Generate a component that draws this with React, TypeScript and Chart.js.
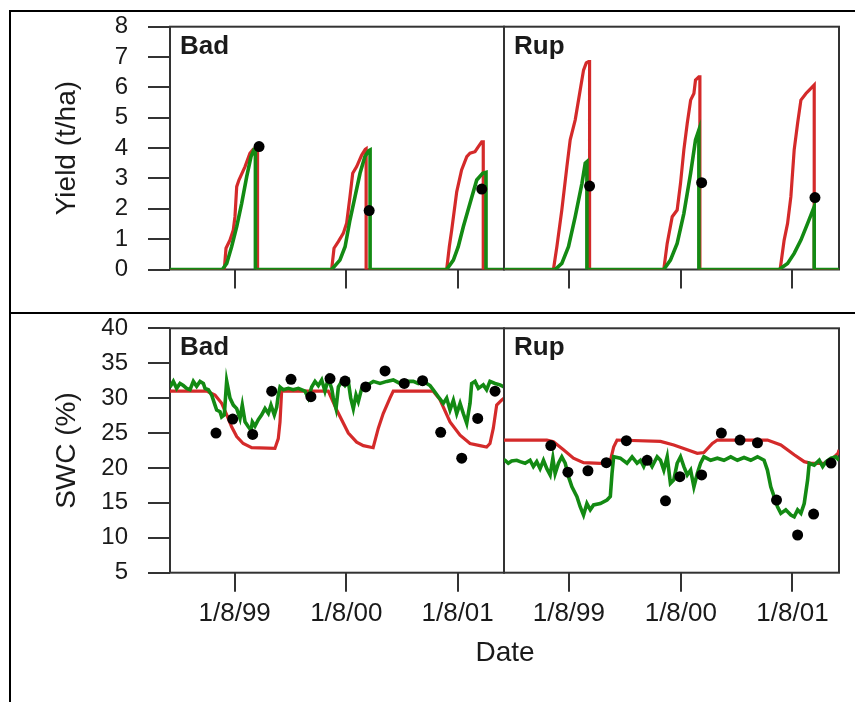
import React, { useEffect, useRef } from 'react';
import { Chart, registerables } from 'chart.js';

Chart.register(...registerables);

const FONT = '"Liberation Sans", Arial, Helvetica, sans-serif';
const RED = '#d42a2a';
const GREEN = '#138a13';
const INK = '#1a1a1a';
const FRAME = '#333333';

// x axis: days since 1 Jan 1999
const DAY_MIN = 0;
const DAY_MAX = 1095;
const xTickDays = [212, 578, 943];
const xTickLabels = ['1/8/99', '1/8/00', '1/8/01'];

const yieldTicks = [0, 1, 2, 3, 4, 5, 6, 7, 8];
const swcTicks = [5, 10, 15, 20, 25, 30, 35, 40];

const sites = ['Bad', 'Rup'];
const yieldTitle = 'Yield (t/ha)';
const swcTitle = 'SWC (%)';
const xTitle = 'Date';

type Pt = [number, number];

// ---------- Yield (t/ha) ----------
const badYieldRed: Pt[] = [
  [0, 0], [178, 0], [183.6, 0.7], [196.7, 0.97], [207.5, 1.3], [213, 1.74], [218.7, 2.73], [226, 2.95],
  [246, 3.39], [262, 3.83], [273, 3.96], [281, 3.97], [287, 3.97], [287, 0],
  [530, 0], [537.7, 0.7], [551.8, 0.92], [568, 1.19], [579, 1.52], [590, 2.4], [599, 3.17], [612, 3.39],
  [628.5, 3.77], [640, 3.96], [643, 3.98], [643, 0],
  [907, 0], [915.7, 0.75], [923.6, 1.3], [940, 2.56], [956, 3.28], [973, 3.72], [983.6, 3.83], [1000, 3.88],
  [1011, 4.05], [1022, 4.21], [1027, 4.21], [1027, 0], [1095, 0],
];
const badYieldGreen: Pt[] = [
  [0, 0], [171.5, 0], [186, 0.2], [202, 0.75], [218.7, 1.41], [235, 2.18], [251.5, 3.06], [265.6, 3.72],
  [276, 3.96], [280, 3.96], [280, 0],
  [530, 0], [557, 0.31], [574, 0.75], [590, 1.63], [606.6, 2.4], [623, 3.17], [639, 3.72], [652, 3.92],
  [656, 3.94], [656, 0],
  [907, 0], [929, 0.31], [945, 0.75], [961.6, 1.41], [983.6, 2.18], [1005.6, 2.95], [1025, 3.17], [1036, 3.2],
  [1036, 0], [1095, 0],
];
const badYieldObs: Pt[] = [[292, 4.05], [653, 1.94], [1022, 2.65]];

const rupYieldRed: Pt[] = [
  [0, 0], [161.6, 0], [172.8, 0.75], [189, 1.96], [205.6, 3.39], [216.4, 4.27], [232.8, 4.93], [249, 5.91],
  [260, 6.57], [268.9, 6.81], [276.4, 6.85], [279.7, 6.85], [279.7, 0],
  [522.3, 0], [533.4, 0.86], [549.8, 1.74], [566, 1.96], [577, 2.84], [587.9, 3.94], [599, 4.82], [610, 5.58],
  [620.7, 5.8], [626, 6.24], [637, 6.35], [640.3, 6.35], [640.3, 0],
  [902.6, 0], [915.7, 0.97], [926.9, 1.52], [937.7, 2.4], [948.5, 3.94], [959.7, 4.82], [970.5, 5.58],
  [987, 5.8], [997.7, 5.91], [1014, 6.08], [1014, 0], [1095, 0],
];
const rupYieldGreen: Pt[] = [
  [0, 0], [167, 0], [189, 0.2], [210.8, 0.75], [232.8, 1.74], [254.8, 2.84], [265.6, 3.5], [271, 3.55], [271, 0],
  [522.3, 0], [544, 0.31], [566, 0.86], [588, 1.85], [610, 3.17], [626, 4.27], [637, 4.6], [637, 0],
  [899.3, 0], [926.9, 0.2], [948.5, 0.53], [970.5, 0.97], [992.5, 1.52], [1014, 2.07], [1014, 0], [1095, 0],
];
const rupYieldObs: Pt[] = [[279.7, 2.75], [646, 2.86], [1016.4, 2.37]];

// ---------- SWC (%) ----------
const badSwcRed: Pt[] = [
  [0, 31], [120, 31], [147.5, 30.45], [169.5, 29.25], [186, 27.6], [202, 25.9], [218.7, 24.5], [240, 23.5],
  [268, 22.9], [344, 22.8], [355, 24.2], [360.7, 26.6], [366, 31], [519, 31], [546.6, 28.3], [584.6, 25],
  [612, 23.7], [634, 23.2], [666, 22.9], [683, 25.7], [699, 27.8], [721, 30], [732, 31], [863, 31],
  [885, 29.8], [918, 26.6], [951, 24.7], [983.6, 23.5], [1016, 23.2], [1038, 23.0], [1049, 23.5],
  [1060, 25.7], [1071, 29], [1087, 29.7], [1095, 30],
];
const badSwcGreen: Pt[] = [
  [0, 31.6], [10.9, 32.4], [21.9, 31.4], [32.8, 32.1], [43.7, 31.8], [54.6, 31.4], [65.6, 31.2], [76.5, 32.4],
  [87.4, 31.7], [98.4, 32.4], [109.3, 32.1], [114.8, 31.4], [125.7, 31.2], [136.6, 30.45], [147.5, 29],
  [153, 28.3], [164, 28.05], [169.4, 27.3], [178, 27.6], [185.8, 32.45], [196.7, 30], [207.6, 29],
  [218.6, 28.5], [229.5, 27.1], [237, 29], [246, 26.6], [256.8, 25.9], [265.6, 25.4], [270, 26.6],
  [278.7, 26.0], [289.5, 26.9], [300.6, 27.6], [311.5, 28.5], [322.4, 27.8], [331, 29], [342, 27.6],
  [349.8, 28.7], [355, 30.45], [360.7, 31.6], [371.5, 31.2], [388, 31.4], [404, 31.2], [420.7, 31.4],
  [442.6, 31], [453.5, 30], [464.5, 31.6], [475.4, 32.4], [486.3, 31.8], [497.3, 32.6], [508, 31],
  [519, 32.8], [530, 31.4], [535.4, 30], [544.3, 28.5], [552, 31.6], [563, 32.4], [573.8, 31.8],
  [584.6, 32.4], [592.5, 30], [601, 28.5], [609.8, 30.45], [617.4, 29.5], [628.5, 31.4], [645, 31.8],
  [666.6, 32.4], [688.5, 32.1], [710.5, 32.4], [732, 32.6], [754, 32.1], [776, 32.4], [797.7, 32.4],
  [814, 32.1], [830.5, 32.4], [841.6, 32.1], [852.5, 31.8], [863, 31.2], [879.7, 30.2], [896, 29.25],
  [907, 30], [918, 28.3], [929, 29.7], [940, 27.8], [951, 29.25], [961.6, 27.8], [972.8, 26.4],
  [983.6, 29.25], [989, 32.1], [1000, 32.4], [1011, 31.4], [1027, 31.9], [1038, 31.2], [1049, 32.4],
  [1065.6, 32.1], [1082, 31.9], [1095, 31.6],
];
const badSwcObs: Pt[] = [
  [150.8, 25.0], [205.6, 27.0], [271, 24.8], [333.4, 31], [396.7, 32.7], [462, 30.2], [524.6, 32.8],
  [573.8, 32.45], [641.6, 31.6], [705, 33.9], [768, 32.1], [828, 32.5], [887.5, 25.1], [956.4, 21.4],
  [1008.8, 27.1], [1065.6, 31.0],
];

const rupSwcRed: Pt[] = [
  [0, 24], [140, 24], [161.6, 23.76], [194.4, 22.6], [227, 21.4], [260, 20.75], [314.8, 20.67], [347.5, 21.0],
  [358.4, 23.0], [369.5, 24.0], [511.5, 23.8], [555, 23.3], [599, 22.6], [631.8, 22.1], [653.4, 22.2],
  [681, 23.5], [697.4, 24], [861.3, 24], [905, 23.3], [948.5, 21.9], [981.3, 20.9], [1003.3, 20.67],
  [1058, 20.67], [1079.7, 21.6], [1092, 22.1], [1095, 22.6],
];
const rupSwcGreen: Pt[] = [
  [0, 21.1], [3.3, 21.1], [14, 20.67], [25, 21.0], [41.6, 21.1], [52.5, 20.9], [68.9, 20.67], [85.2, 21.1],
  [96, 20.2], [107, 20.9], [118, 19.9], [129, 21.1], [140, 19.9], [150.8, 19.0], [159.7, 21.4], [167.2, 19.2],
  [178, 20.67], [189, 21.6], [200, 20.7], [210.8, 18.75], [222, 17.3], [238.4, 15.9], [249, 14.45],
  [260, 13.25], [271, 14.9], [282, 14.0], [292.8, 14.7], [314.8, 14.9], [336.7, 15.4], [347.5, 15.9],
  [353, 19.2], [358.4, 21.6], [380, 21.4], [402, 20.67], [418.7, 21.6], [435, 20.7], [446, 21.1],
  [456.7, 20.2], [467.9, 21.4], [484, 20.2], [500.6, 21.6], [511.5, 21.1], [522.3, 19.7], [533.4, 21.6],
  [544, 17.8], [555, 18.3], [566, 20.67], [577, 21.6], [588, 20.2], [599, 19.0], [610, 19.7], [620.7, 17.3],
  [631.8, 19.2], [642.6, 20.67], [653.4, 21.6], [675.4, 21.1], [697.4, 21.4], [719, 21.1], [741, 21.6],
  [763, 21.1], [784.6, 21.5], [806.6, 21.1], [828.5, 21.6], [850, 21.1], [861, 19.7], [872, 17.3],
  [883, 15.9], [894, 14.45], [905, 13.5], [921, 14.0], [937.7, 13.25], [948.5, 13.0], [959.7, 14.0],
  [970.5, 13.5], [981.3, 14.9], [992.5, 18.3], [997.7, 20.67], [1014, 20.4], [1030.5, 21.1],
  [1041.6, 20.2], [1052.5, 20.9], [1069, 21.4], [1085, 21.6], [1095, 21.1],
];
const rupSwcObs: Pt[] = [
  [153, 23.2], [208.9, 19.4], [274.4, 19.6], [334.4, 20.75], [400, 23.9], [467.9, 21.1], [527.9, 15.3],
  [574.8, 18.75], [646, 19.0], [710.5, 25.0], [771.5, 24.0], [828.5, 23.6], [890.8, 15.4], [959.7, 10.4],
  [1012, 13.4], [1069, 20.7],
];

// ---------- panel frame + panel label plugin ----------
const panelPlugin = {
  id: 'panelDecor',
  beforeDatasetsDraw(chart: any) {
    const { ctx, chartArea } = chart;
    const { left, top, right, bottom } = chartArea;
    ctx.save();
    ctx.strokeStyle = FRAME;
    ctx.lineWidth = 2;
    ctx.strokeRect(left, top, right - left, bottom - top);
    ctx.restore();
  },
  afterDatasetsDraw(chart: any, _args: any, opts: any) {
    const { ctx, chartArea } = chart;
    ctx.save();
    ctx.font = `bold 26px ${FONT}`;
    ctx.fillStyle = INK;
    ctx.textBaseline = 'middle';
    ctx.textAlign = 'left';
    ctx.fillText(opts.label || '', chartArea.left + 10, chartArea.top + opts.labelDy);
    ctx.restore();
  },
};

interface PanelSpec {
  left: number;
  top: number;
  width: number;
  height: number;
  padding: { left: number; top: number; right: number; bottom: number };
  showY: boolean;
  yAxisWidth: number;
  xAxisHeight: number;
  yMin: number;
  yMax: number;
  yTicks: number[];
  yTitle: string;
  showXLabels: boolean;
  label: string;
  labelDy: number;
  red: Pt[];
  green: Pt[];
  obs: Pt[];
}

const toXY = (arr: Pt[]) => arr.map(([x, y]) => ({ x, y }));

function makeConfig(p: PanelSpec): any {
  return {
    type: 'line',
    data: {
      datasets: [
        {
          label: 'Observed',
          data: toXY(p.obs),
          showLine: false,
          pointRadius: 5.5,
          pointBackgroundColor: '#000',
          pointBorderColor: '#000',
          pointBorderWidth: 0,
          order: 0,
        },
        {
          label: 'Green',
          data: toXY(p.green),
          borderColor: GREEN,
          borderWidth: 3.6,
          pointRadius: 0,
          tension: 0,
          fill: false,
          order: 1,
        },
        {
          label: 'Red',
          data: toXY(p.red),
          borderColor: RED,
          borderWidth: 3.2,
          pointRadius: 0,
          tension: 0,
          fill: false,
          order: 2,
        },
      ],
    },
    options: {
      animation: false,
      responsive: false,
      events: [],
      layout: { padding: p.padding },
      plugins: {
        legend: { display: false },
        tooltip: { enabled: false },
        panelDecor: { label: p.label, labelDy: p.labelDy },
      },
      scales: {
        x: {
          type: 'linear',
          position: 'bottom',
          min: DAY_MIN,
          max: DAY_MAX,
          afterBuildTicks: (s: any) => {
            s.ticks = xTickDays.map((v) => ({ value: v }));
          },
          afterFit: (s: any) => {
            s.height = p.xAxisHeight;
            s.paddingLeft = 0;
            s.paddingRight = 0;
          },
          border: { display: false },
          grid: {
            display: true,
            drawOnChartArea: false,
            drawTicks: true,
            tickLength: 19,
            color: FRAME,
            lineWidth: 2,
          },
          ticks: {
            display: p.showXLabels,
            autoSkip: false,
            maxRotation: 0,
            padding: 7,
            color: INK,
            font: { size: 26, family: FONT },
            callback: (_v: any, i: number) => xTickLabels[i],
          },
        },
        y: {
          type: 'linear',
          display: p.showY,
          min: p.yMin,
          max: p.yMax,
          afterBuildTicks: (s: any) => {
            s.ticks = p.yTicks.map((v) => ({ value: v }));
          },
          afterFit: (s: any) => {
            if (p.showY) s.width = p.yAxisWidth;
            s.paddingTop = 0;
            s.paddingBottom = 0;
          },
          border: { display: false },
          grid: {
            display: true,
            drawOnChartArea: false,
            drawTicks: true,
            tickLength: 22,
            color: FRAME,
            lineWidth: 2,
          },
          ticks: {
            autoSkip: false,
            padding: 20,
            color: INK,
            font: { size: 24, family: FONT },
            callback: (v: any) => String(v),
          },
          title: {
            display: p.showY,
            text: p.yTitle,
            color: INK,
            font: { size: 28, family: FONT },
            padding: { top: 30, bottom: 0 },
          },
        },
      },
    },
    plugins: [panelPlugin],
  };
}

function Panel({ spec }: { spec: PanelSpec }) {
  const ref = useRef<HTMLCanvasElement | null>(null);
  useEffect(() => {
    if (!ref.current) return;
    const chart = new Chart(ref.current, makeConfig(spec));
    return () => chart.destroy();
  }, [spec]);
  return (
    <canvas
      ref={ref}
      width={spec.width}
      height={spec.height}
      style={{
        position: 'absolute',
        left: spec.left,
        top: spec.top,
        width: spec.width,
        height: spec.height,
      }}
    />
  );
}

// Plot areas: Bad x 170..504, Rup x 504..839; top row y 26.7..269.5, bottom row y 328.3..572.7
const panels: PanelSpec[] = [
  {
    left: 20, top: 12, width: 490, height: 300,
    padding: { left: 0, top: 14.7, right: 6, bottom: 0 },
    showY: true, yAxisWidth: 150, xAxisHeight: 42.5,
    yMin: 0, yMax: 8, yTicks: yieldTicks, yTitle: yieldTitle,
    showXLabels: false, label: sites[0], labelDy: 20.5,
    red: badYieldRed, green: badYieldGreen, obs: badYieldObs,
  },
  {
    left: 498, top: 12, width: 357, height: 300,
    padding: { left: 6, top: 14.7, right: 16, bottom: 0 },
    showY: false, yAxisWidth: 0, xAxisHeight: 42.5,
    yMin: 0, yMax: 8, yTicks: yieldTicks, yTitle: yieldTitle,
    showXLabels: false, label: sites[1], labelDy: 20.5,
    red: rupYieldRed, green: rupYieldGreen, obs: rupYieldObs,
  },
  {
    left: 20, top: 314, width: 490, height: 380,
    padding: { left: 0, top: 14.3, right: 6, bottom: 0 },
    showY: true, yAxisWidth: 150, xAxisHeight: 121.3,
    yMin: 5, yMax: 40, yTicks: swcTicks, yTitle: swcTitle,
    showXLabels: true, label: sites[0], labelDy: 19.5,
    red: badSwcRed, green: badSwcGreen, obs: badSwcObs,
  },
  {
    left: 498, top: 314, width: 357, height: 380,
    padding: { left: 6, top: 14.3, right: 16, bottom: 0 },
    showY: false, yAxisWidth: 0, xAxisHeight: 121.3,
    yMin: 5, yMax: 40, yTicks: swcTicks, yTitle: swcTitle,
    showXLabels: true, label: sites[1], labelDy: 19.5,
    red: rupSwcRed, green: rupSwcGreen, obs: rupSwcObs,
  },
];

export default function App() {
  return (
    <div
      style={{
        position: 'absolute',
        left: 0,
        top: 0,
        width: 855,
        height: 702,
        background: '#fff',
        overflow: 'hidden',
        fontFamily: FONT,
      }}
    >
      {/* table cell borders */}
      <div style={{ position: 'absolute', left: 9, top: 10, width: 846, height: 2, background: '#000' }} />
      <div style={{ position: 'absolute', left: 9, top: 312, width: 846, height: 2, background: '#000' }} />
      <div style={{ position: 'absolute', left: 9, top: 10, width: 2, height: 692, background: '#000' }} />
      {panels.map((p, i) => (
        <Panel key={i} spec={p} />
      ))}
      <div
        style={{
          position: 'absolute',
          left: 405,
          top: 635,
          width: 200,
          textAlign: 'center',
          fontSize: 28,
          lineHeight: '34px',
          color: INK,
        }}
      >
        {xTitle}
      </div>
    </div>
  );
}
